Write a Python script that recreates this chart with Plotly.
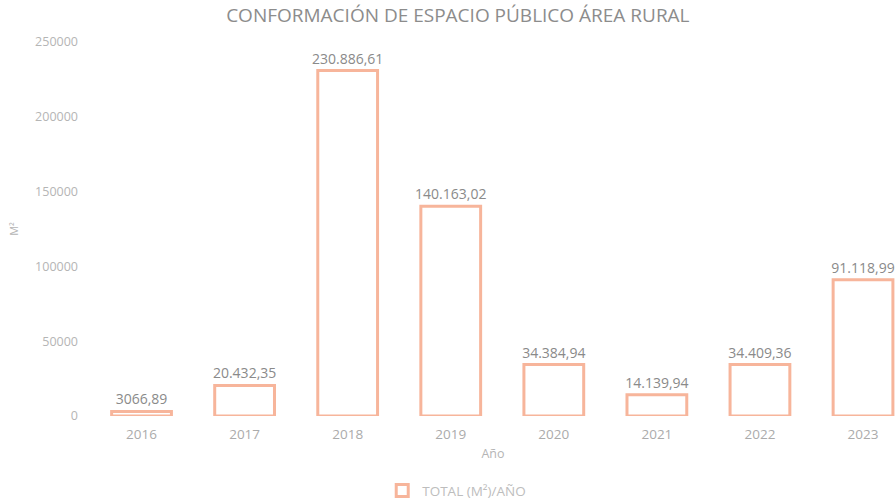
import plotly.graph_objects as go

years = ["2016", "2017", "2018", "2019", "2020", "2021", "2022", "2023"]
values = [3066.89, 20432.35, 230886.61, 140163.02, 34384.94, 14139.94, 34409.36, 91118.99]
labels = ["3066,89", "20.432,35", "230.886,61", "140.163,02", "34.384,94", "14.139,94", "34.409,36", "91.118,99"]
y_ticks = [0, 50000, 100000, 150000, 200000, 250000]

FONT = "Open Sans"
OUTLINE = "#F7B59B"

fig = go.Figure()
fig.add_trace(go.Bar(
    x=years, y=values, text=labels, textposition="outside", constraintext="none",
    textfont=dict(family=FONT, size=14, color="#8A8A8A"),
    marker=dict(color="white", line=dict(color=OUTLINE, width=3)),
    width=0.58, name="TOTAL (M²)/AÑO", cliponaxis=False,
))
fig.update_layout(
    width=896, height=501,
    margin=dict(l=90, r=0, t=42, b=85, autoexpand=False),
    paper_bgcolor="white", plot_bgcolor="white",
    title=dict(text="CONFORMACIÓN DE ESPACIO PÚBLICO ÁREA RURAL", x=0.511, xanchor="center",
               y=0.97, yanchor="middle",
               font=dict(family=FONT, size=19, color="#8C8C8C")),
    showlegend=True,
    legend=dict(orientation="h", x=0.455, xanchor="center", y=-0.2, yanchor="middle",
                itemwidth=30,
                font=dict(family=FONT, size=13.5, color="#BDBDBD")),
    xaxis=dict(type="category", range=[-0.5, 7.32], showgrid=False, showline=False,
               automargin=False,
               tickfont=dict(family=FONT, size=13.5, color="#ABABAB"), ticklabelstandoff=8,
               title=dict(text="Año", font=dict(family=FONT, size=12.5, color="#B5B5B5"), standoff=7)),
    yaxis=dict(range=[0, 250000], tickvals=y_ticks, ticktext=[str(v) for v in y_ticks],
               showgrid=False, zeroline=False, showline=False, automargin=False,
               tickfont=dict(family=FONT, size=12.5, color="#B5B5B5"), ticklabelstandoff=11,
               title=dict(text="M²", font=dict(family=FONT, size=11, color="#B5B5B5"), standoff=14)),
)
fig.write_html("out.html", config={"displayModeBar": False},
               post_script="document.body.style.margin='0';")
